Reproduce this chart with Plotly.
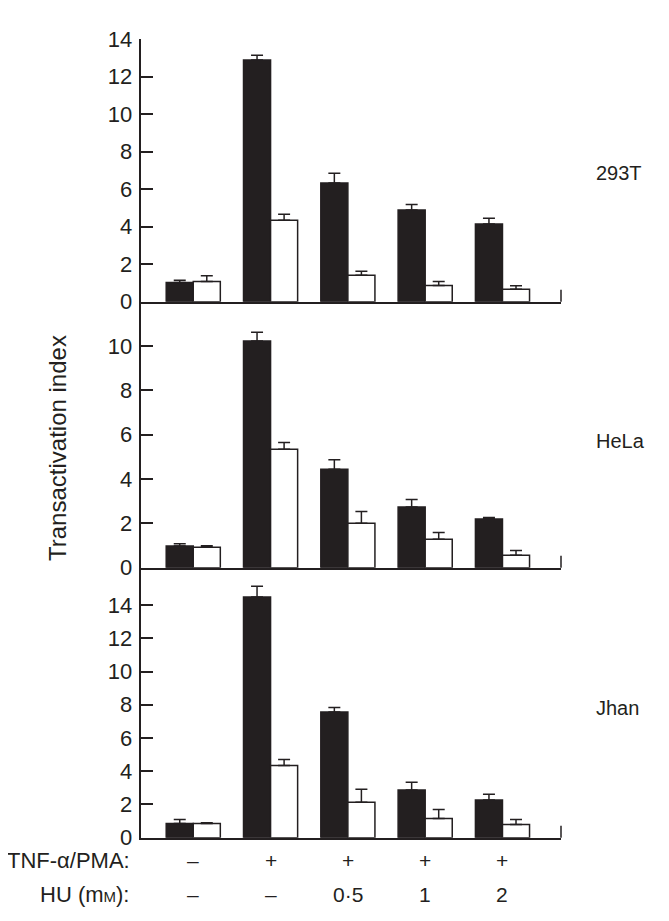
import plotly.graph_objects as go

# ---------------- data ----------------
conditions = ["ctrl", "TNF", "TNF+HU0.5", "TNF+HU1", "TNF+HU2"]
tnf_labels = ["–", "+", "+", "+", "+"]
hu_labels = ["–", "–", "0·5", "1", "2"]

panels = ["293T", "HeLa", "Jhan"]

t293_black = [1.03, 12.9, 6.33, 4.89, 4.15]
t293_black_err = [0.11, 0.25, 0.52, 0.30, 0.30]
t293_white = [1.08, 4.34, 1.41, 0.87, 0.66]
t293_white_err = [0.30, 0.32, 0.21, 0.21, 0.19]

hela_black = [0.98, 10.23, 4.44, 2.74, 2.20]
hela_black_err = [0.10, 0.39, 0.43, 0.34, 0.07]
hela_white = [0.92, 5.34, 2.00, 1.28, 0.56]
hela_white_err = [0.07, 0.31, 0.54, 0.31, 0.22]

jhan_black = [0.86, 14.48, 7.56, 2.87, 2.27]
jhan_black_err = [0.24, 0.66, 0.28, 0.46, 0.34]
jhan_white = [0.86, 4.35, 2.13, 1.16, 0.80]
jhan_white_err = [0.04, 0.36, 0.78, 0.54, 0.30]

y_ranges = [[0, 14], [0, 12], [0, 16.25]]
y_ticks = [[0, 2, 4, 6, 8, 10, 12, 14], [0, 2, 4, 6, 8, 10], [0, 2, 4, 6, 8, 10, 12, 14]]

# ---------------- layout geometry ----------------
PAGE_OFF = 8                      # default body margin of the html page
W, H = 669 - 2 * PAGE_OFF, 921 - 2 * PAGE_OFF
INK = "#231f20"
FONT = "Liberation Sans, Arial, Helvetica, sans-serif"

def fx(px):
    return (px - PAGE_OFF) / W

def fy(px):
    return 1 - (px - PAGE_OFF) / H

x_dom = [fx(140.7), fx(561.0)]
panel_px = [(39.3, 301.7), (301.7, 567.7), (567.7, 837.7)]
label_y_px = [173, 441, 708]

series = [
    (t293_black, t293_black_err, t293_white, t293_white_err),
    (hela_black, hela_black_err, hela_white, hela_white_err),
    (jhan_black, jhan_black_err, jhan_white, jhan_white_err),
]

fig = go.Figure()
shapes = []
annotations = []
layout = {}

for i, (bk, bke, wh, whe) in enumerate(series):
    s = "" if i == 0 else str(i + 1)
    xa, ya = "x" + s, "y" + s
    err_style = dict(type="data", symmetric=False, arrayminus=[0] * 5,
                     color=INK, thickness=1.5, width=6)
    fig.add_trace(go.Bar(
        x=conditions, y=bk, xaxis=xa, yaxis=ya, showlegend=False,
        marker=dict(color=INK, line=dict(color=INK, width=1.5)),
        error_y=dict(array=bke, **err_style)))
    fig.add_trace(go.Bar(
        x=conditions, y=wh, xaxis=xa, yaxis=ya, showlegend=False,
        marker=dict(color="white", line=dict(color=INK, width=1.5)),
        error_y=dict(array=whe, **err_style)))

    top, bot = panel_px[i]
    layout["xaxis" + s] = dict(
        domain=x_dom, anchor=ya, type="category", range=[-0.68, 4.757],
        showline=True, linecolor=INK, linewidth=2, showticklabels=False,
        ticks="", showgrid=False, zeroline=False, fixedrange=True)
    layout["yaxis" + s] = dict(
        domain=[fy(bot), fy(top)], anchor=xa, range=y_ranges[i],
        tickvals=y_ticks[i], ticks="inside", ticklen=12, tickwidth=1.5,
        tickcolor=INK, showline=True, linecolor=INK, linewidth=2,
        showgrid=False, zeroline=False, automargin=False,
        tickfont=dict(size=22, color=INK, family=FONT), ticklabelstandoff=2)

    # small end tick at the right of each baseline
    shapes.append(dict(type="line", xref=xa + " domain", yref=ya + " domain",
                       x0=1, x1=1, y0=0, y1=12 / (bot - top),
                       line=dict(color=INK, width=1.5)))
    annotations.append(dict(text=panels[i], xref="paper", yref="paper",
                            x=fx(594), y=fy(label_y_px[i]), showarrow=False,
                            xanchor="left", yanchor="middle",
                            font=dict(size=20, color=INK, family=FONT)))

# bottom condition labels
for c, t, h in zip(conditions, tnf_labels, hu_labels):
    annotations.append(dict(text=t, xref="x3", yref="paper", x=c, y=fy(860),
                            showarrow=False, xanchor="center", yanchor="middle",
                            font=dict(size=21, color=INK, family=FONT)))
    annotations.append(dict(text=h, xref="x3", yref="paper", x=c, y=fy(894),
                            showarrow=False, xanchor="center", yanchor="middle",
                            font=dict(size=21, color=INK, family=FONT)))

annotations.append(dict(text="TNF-α/PMA:", xref="paper", yref="paper",
                        x=fx(132), y=fy(860), showarrow=False, xanchor="right",
                        yanchor="middle", font=dict(size=22, color=INK, family=FONT)))
annotations.append(dict(text="HU (m<span style='font-size:15px'>M</span>):",
                        xref="paper", yref="paper",
                        x=fx(132), y=fy(894), showarrow=False, xanchor="right",
                        yanchor="middle", font=dict(size=22, color=INK, family=FONT)))

annotations.append(dict(text="Transactivation index", xref="paper", yref="paper",
                        x=fx(57), y=fy(448), showarrow=False, textangle=-90,
                        xanchor="center", yanchor="middle",
                        font=dict(size=24, color=INK, family=FONT)))

fig.update_layout(
    width=W, height=H, margin=dict(l=0, r=0, t=0, b=0),
    paper_bgcolor="white", plot_bgcolor="white",
    barmode="group", bargap=0.30, bargroupgap=0,
    shapes=shapes, annotations=annotations,
    font=dict(family=FONT, color=INK),
    **layout)

fig.write_html("out.html")
